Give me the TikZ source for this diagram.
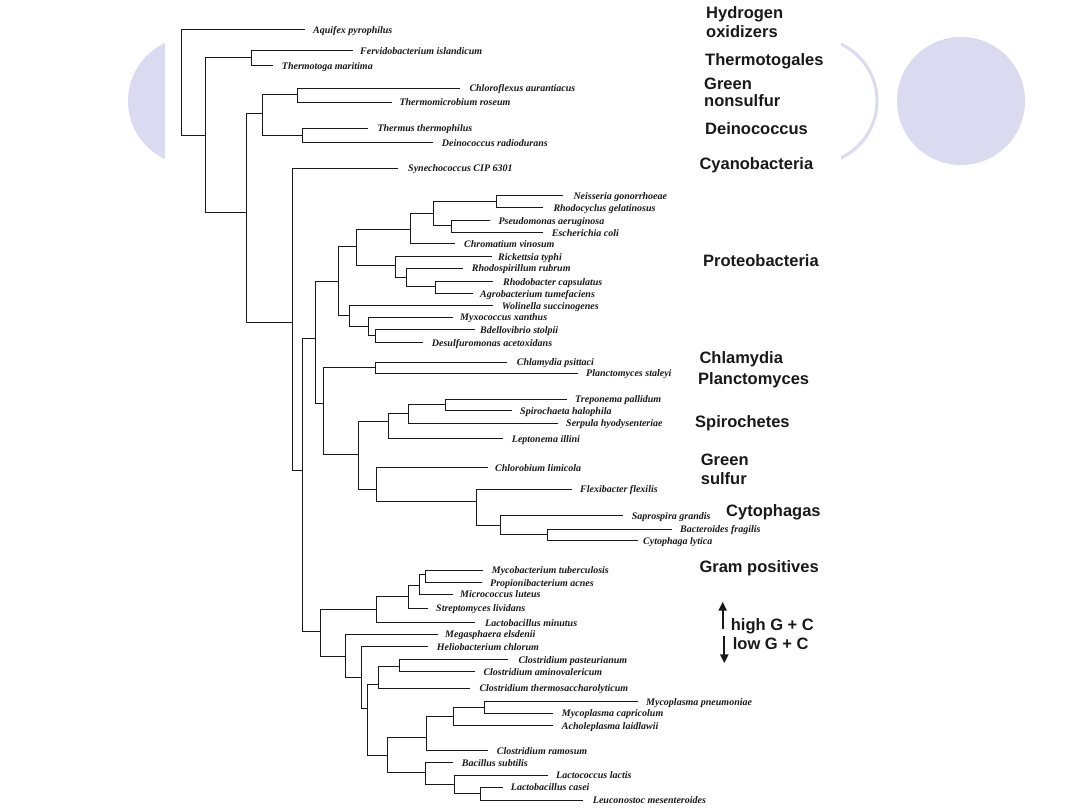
\documentclass[tikz,border=0pt]{standalone}
\usepackage{fontspec}
\setmainfont{Liberation Serif}
\newfontfamily\grpfamily{Liberation Sans}
\usetikzlibrary{arrows.meta}
\definecolor{lav}{RGB}{218,218,240}
\definecolor{treeline}{RGB}{25,25,25}
\newcommand{\leafat}[5]{\coordinate (#1) at (#2,#4); \node[leaf] (#1-l) at (#3,{#4+3.5}) {#5};}
\begin{document}
\begin{tikzpicture}[x=1pt,y=-1pt,
  br/.style={draw=treeline,line width=1pt},
  leaf/.style={anchor=base west,inner sep=0pt,font=\fontsize{10}{12}\selectfont\bfseries\itshape,text=black!90},
  grp/.style={anchor=base west,inner sep=0pt,font=\grpfamily\fontsize{16.5}{18.7}\selectfont\bfseries,text=black!90},
  gcarrow/.style={draw=black!90,line width=2.2pt,-{Triangle[length=9pt,width=8pt]}}]
\useasboundingbox (0,0) rectangle (1080,810);
\fill[white] (0,0) rectangle (1080,810);
% slide background circles
\fill[lav] (192,101) circle[radius=64pt];
\draw[lav,line width=3pt] (814,101) circle[radius=63pt];
\fill[lav] (961,101) circle[radius=64pt];
\fill[white] (165,0) rectangle (841,810);
% internal nodes
\coordinate (R) at (181,83);
\coordinate (A) at (205,135.7);
\coordinate (T) at (251.7,58);
\coordinate (B) at (246.7,213);
\coordinate (GD) at (262.7,114);
\coordinate (GN) at (297.3,95);
\coordinate (DE) at (302.7,135.7);
\coordinate (C) at (292.7,322.7);
\coordinate (D) at (302.7,470.7);
\coordinate (E) at (315,338.3);
\coordinate (P) at (338.3,281.7);
\coordinate (P1) at (356.7,246.7);
\coordinate (P2) at (410.7,229.3);
\coordinate (P3) at (433.3,213.3);
\coordinate (P4) at (496,201.7);
\coordinate (P5) at (451,226);
\coordinate (P6) at (395,266);
\coordinate (P7) at (406.7,277.7);
\coordinate (P8) at (435,286.7);
\coordinate (P9) at (349,316);
\coordinate (P10) at (368.3,326.7);
\coordinate (P11) at (375.7,336);
\coordinate (F) at (323.3,404);
\coordinate (CP) at (375,367.3);
\coordinate (G) at (358.3,454.3);
\coordinate (S) at (388.3,421.7);
\coordinate (S1) at (408.3,413.3);
\coordinate (S2) at (445.7,404.3);
\coordinate (H) at (376.7,489);
\coordinate (I) at (476.7,501.7);
\coordinate (J) at (500,525);
\coordinate (K) at (547,534.3);
\coordinate (GP) at (320,631.7);
\coordinate (HG) at (376.7,609.3);
\coordinate (HG1) at (408.3,596.7);
\coordinate (HG2) at (419.3,585);
\coordinate (HG3) at (425,574.3);
\coordinate (L) at (345,656);
\coordinate (L1) at (361,677.7);
\coordinate (L2) at (367.3,708.3);
\coordinate (Cl) at (378.3,684.3);
\coordinate (Cl1) at (399,666);
\coordinate (M) at (387.7,755);
\coordinate (M1) at (426.7,737.3);
\coordinate (M2) at (453.3,716.7);
\coordinate (M3) at (484.3,707.3);
\coordinate (Bc) at (425,772.3);
\coordinate (B1) at (454.3,784);
\coordinate (B2) at (480,793.3);
% leaves
\leafat{aqu}{305}{313}{30}{Aquifex pyrophilus}
\leafat{ferv}{352.7}{360}{51}{Fervidobacterium islandicum}
\leafat{tmar}{272.7}{281.7}{65.7}{Thermotoga maritima}
\leafat{chlf}{460}{469.3}{88.3}{Chloroflexus aurantiacus}
\leafat{tmic}{391.7}{399.3}{102.3}{Thermomicrobium roseum}
\leafat{ther}{368.3}{377.3}{128.3}{Thermus thermophilus}
\leafat{dein}{433.3}{441.7}{142.7}{Deinococcus radiodurans}
\leafat{syn}{398}{408}{168.3}{Synechococcus CIP 6301}
\leafat{neis}{563.3}{573.3}{195.7}{Neisseria gonorrhoeae}
\leafat{rhcy}{543.3}{553.3}{207.7}{Rhodocyclus gelatinosus}
\leafat{pseu}{490}{498.3}{221}{Pseudomonas aeruginosa}
\leafat{ecol}{543.3}{551.7}{232.7}{Escherichia coli}
\leafat{chrom}{455}{464}{244}{Chromatium vinosum}
\leafat{rick}{491.7}{498}{256.7}{Rickettsia typhi}
\leafat{rhsp}{463.3}{471.7}{268.3}{Rhodospirillum rubrum}
\leafat{rhbc}{493.3}{503}{281.7}{Rhodobacter capsulatus}
\leafat{agro}{473.3}{480}{294}{Agrobacterium tumefaciens}
\leafat{woli}{493.3}{501.7}{305.7}{Wolinella succinogenes}
\leafat{myxo}{453.3}{460}{317.3}{Myxococcus xanthus}
\leafat{bdel}{475}{480}{330}{Bdellovibrio stolpii}
\leafat{desu}{423.3}{431.7}{342.7}{Desulfuromonas acetoxidans}
\leafat{chla}{506.7}{516.7}{362.3}{Chlamydia psittaci}
\leafat{plan}{578.3}{586}{373.3}{Planctomyces staleyi}
\leafat{trep}{566.7}{575}{399.3}{Treponema pallidum}
\leafat{spir}{511.7}{520}{410.7}{Spirochaeta halophila}
\leafat{serp}{558.3}{566}{423.3}{Serpula hyodysenteriae}
\leafat{lept}{503.3}{511.7}{439}{Leptonema illini}
\leafat{chlb}{488.3}{495}{467.7}{Chlorobium limicola}
\leafat{flex}{571.7}{580}{489.3}{Flexibacter flexilis}
\leafat{sapr}{623.3}{631.7}{515.7}{Saprospira grandis}
\leafat{bact}{671.7}{680}{529}{Bacteroides fragilis}
\leafat{cyto}{638}{643}{540.7}{Cytophaga lytica}
\leafat{myco}{483.3}{491.7}{570}{Mycobacterium tuberculosis}
\leafat{prop}{481.7}{490}{582.7}{Propionibacterium acnes}
\leafat{micr}{453.3}{460}{594.3}{Micrococcus luteus}
\leafat{strp}{428.3}{436}{608.3}{Streptomyces lividans}
\leafat{lmin}{475}{485}{622.7}{Lactobacillus minutus}
\leafat{mega}{438}{445}{634.3}{Megasphaera elsdenii}
\leafat{helio}{428.3}{436.7}{646.7}{Heliobacterium chlorum}
\leafat{cpas}{508.3}{518.3}{659.7}{Clostridium pasteurianum}
\leafat{camv}{475}{483.3}{671.7}{Clostridium aminovalericum}
\leafat{cthe}{470}{479.3}{688.3}{Clostridium thermosaccharolyticum}
\leafat{mpne}{638.3}{646}{701.7}{Mycoplasma pneumoniae}
\leafat{mcap}{553.3}{561.7}{713.3}{Mycoplasma capricolum}
\leafat{acho}{553.3}{561.7}{725.7}{Acholeplasma laidlawii}
\leafat{cram}{488.3}{496.7}{750.7}{Clostridium ramosum}
\leafat{bsub}{453.3}{461.7}{762.7}{Bacillus subtilis}
\leafat{lact}{548.3}{556}{775}{Lactococcus lactis}
\leafat{lcas}{502.7}{510.7}{787.3}{Lactobacillus casei}
\leafat{leuc}{583.3}{592.7}{800}{Leuconostoc mesenteroides}
% branches
\foreach \c/\p in {aqu/R, A/R, T/A, B/A, ferv/T, tmar/T, GD/B, C/B, GN/GD, DE/GD,
  chlf/GN, tmic/GN, ther/DE, dein/DE, syn/C, D/C, E/D, GP/D, P/E, F/E,
  P1/P, P9/P, P2/P1, P6/P1, P3/P2, chrom/P2, P4/P3, P5/P3, neis/P4, rhcy/P4,
  pseu/P5, ecol/P5, rick/P6, P7/P6, rhsp/P7, P8/P7, rhbc/P8, agro/P8,
  woli/P9, P10/P9, myxo/P10, P11/P10, bdel/P11, desu/P11, CP/F, G/F,
  chla/CP, plan/CP, S/G, H/G, S1/S, lept/S, S2/S1, serp/S1, trep/S2, spir/S2,
  chlb/H, I/H, flex/I, J/I, sapr/J, K/J, bact/K, cyto/K,
  HG/GP, L/GP, HG1/HG, lmin/HG, HG2/HG1, strp/HG1, HG3/HG2, micr/HG2, myco/HG3, prop/HG3,
  mega/L, L1/L, helio/L1, L2/L1, Cl/L2, M/L2, Cl1/Cl, cthe/Cl, cpas/Cl1, camv/Cl1,
  M1/M, Bc/M, M2/M1, cram/M1, M3/M2, acho/M2, mpne/M3, mcap/M3,
  bsub/Bc, B1/Bc, lact/B1, B2/B1, lcas/B2, leuc/B2}
  \draw[br] (\c) -| (\p);
% group labels
\node[grp] (g1a) at (706,19) {Hydrogen};
\node[grp] (g1b) at (706,37.7) {oxidizers};
\node[grp] (g2) at (705,66) {Thermotogales};
\node[grp] (g3a) at (704,90) {Green};
\node[grp] (g3b) at (704,107) {nonsulfur};
\node[grp] (g4) at (705,135) {Deinococcus};
\node[grp] (g5) at (699.3,169.3) {Cyanobacteria};
\node[grp] (g6) at (703,267) {Proteobacteria};
\node[grp] (g7) at (699.3,364) {Chlamydia};
\node[grp] (g8) at (698,385) {Planctomyces};
\node[grp] (g9) at (695,427.3) {Spirochetes};
\node[grp] (g10a) at (700.7,466) {Green};
\node[grp] (g10b) at (700.7,484) {sulfur};
\node[grp] (g11) at (726,516) {Cytophagas};
\node[grp] (g12) at (699.3,572.3) {Gram positives};
\node[grp] (g13) at (730.7,630) {high G + C};
\node[grp] (g14) at (732.7,649.3) {low G + C};
\coordinate (upS) at (722.7,629.3);
\coordinate (upT) at (722.7,601.7);
\coordinate (dnS) at (724.3,636);
\coordinate (dnT) at (724.3,663.3);
\draw[gcarrow] (upS) -- (upT);
\draw[gcarrow] (dnS) -- (dnT);
\end{tikzpicture}
\end{document}
